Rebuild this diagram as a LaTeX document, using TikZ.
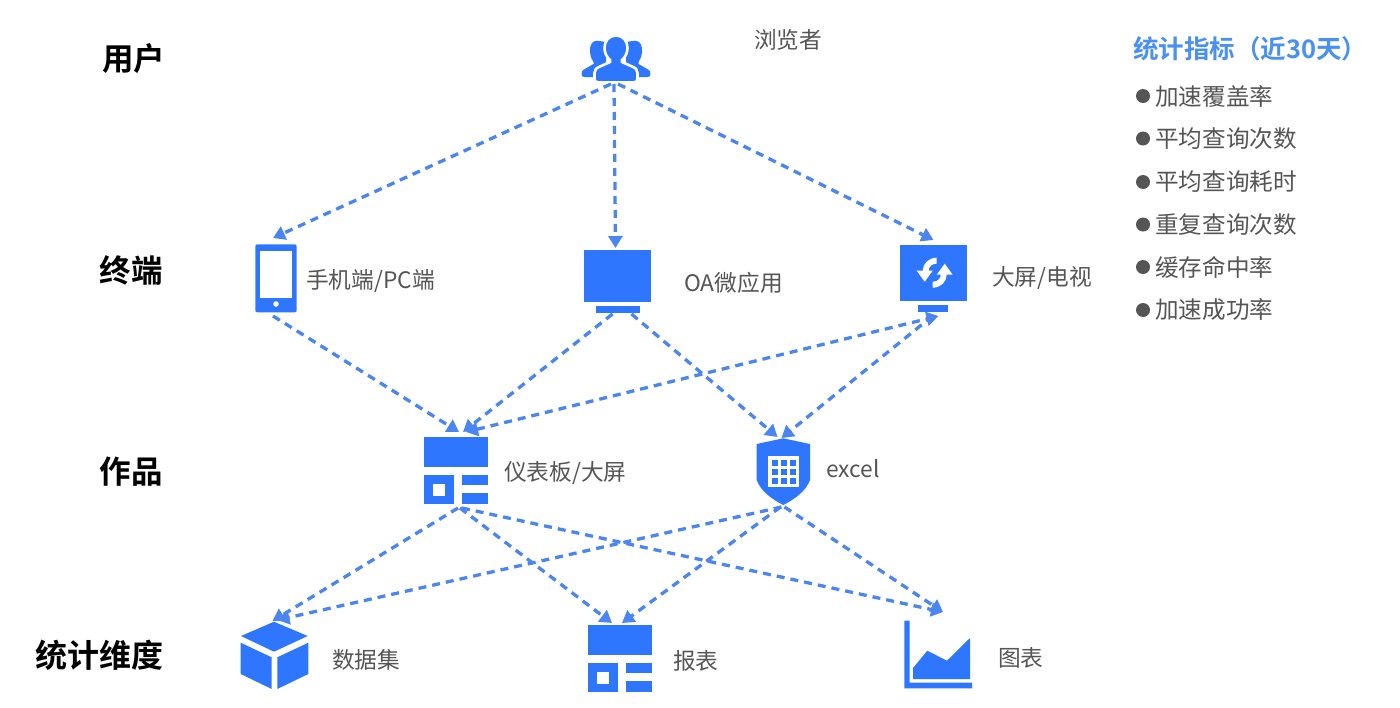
\documentclass[tikz,border=0pt]{standalone}
\usepackage{fontspec}
\setmainfont{Noto Sans CJK SC}[BoldFont={Noto Sans CJK SC Bold}]
\usetikzlibrary{arrows.meta}
\definecolor{iconblue}{HTML}{2F76FF}
\definecolor{flowblue}{HTML}{4A85F2}
\definecolor{titleblue}{HTML}{4A90F2}
\definecolor{labelgrey}{HTML}{555555}
\tikzset{
  iconframe/.style={inner sep=0pt,outer sep=0pt,minimum width=#1},
  flow/.style={flowblue,line width=3.3pt,dash pattern=on 8pt off 6pt,
    -{Triangle[length=12pt,width=14pt]}},
  twoway/.style={flow,{Triangle[length=12pt,width=14pt]}-{Triangle[length=12pt,width=14pt]}},
  tier/.style={anchor=center,font=\bfseries\fontsize{31.5}{32}\selectfont,text=black,inner sep=0pt},
  caption/.style={anchor=west,font=\fontsize{22.7}{24}\selectfont,text=labelgrey,inner sep=0pt},
  metric/.style={anchor=west,font=\fontsize{23.6}{24}\selectfont,text=labelgrey,inner sep=0pt},
  dot/.style={circle,fill=labelgrey,minimum size=14pt,inner sep=0pt},
}
% Two-row dashboard glyph, placed by its top-left corner
\newcommand{\panelglyph}[2]{%
  \begin{scope}[shift={(#1,#2)}]
    \fill[iconblue] (0,0) rectangle (63.5,29.4);
    \fill[iconblue] (0,37.2) rectangle (29.8,67);
    \fill[white] (9,46.2) rectangle (21,58.2);
    \fill[iconblue] (37.7,37.2) rectangle (63.5,48);
    \fill[iconblue] (37.7,55.8) rectangle (63.5,67);
  \end{scope}}
\begin{document}
\begin{tikzpicture}[x=1pt,y=-1pt]
\useasboundingbox (0,0) rectangle (1400,707);
\fill[white] (0,0) rectangle (1400,707);

% Tier headings
\node[tier] (tuser) at (133.5,59) {用户};
\node[tier] (tterm) at (131,270) {终端};
\node[tier] (twork) at (131,472) {作品};
\node[tier,font=\bfseries\fontsize{32}{32}\selectfont] (tdim) at (99.5,655) {统计维度};

% Icon frames: connectors attach to these
\node[iconframe=68pt,minimum height=50pt] (users) at (616,59) {};
\node[iconframe=42pt,minimum height=78pt] (phone) at (276,277) {};
\node[iconframe=67pt,minimum height=66pt] (monitor) at (617.5,281) {};
\node[iconframe=67pt,minimum height=76pt] (tv) at (933.5,278) {};
\node[iconframe=64pt,minimum height=76pt] (board) at (456,470) {};
\node[iconframe=53pt,minimum height=70pt] (shield) at (783.5,472) {};
\node[iconframe=67pt,minimum height=69pt] (cube) at (274.5,655.5) {};
\node[iconframe=64pt,minimum height=69pt] (report) at (620,657.5) {};
\node[iconframe=68pt,minimum height=68pt] (chart) at (938,654) {};

% Viewers: two side figures, then the front figure with a white halo
\fill[iconblue] (597,40.7) .. controls (591,40.7) and (589.5,47) .. (590,52)
  .. controls (590.5,57) and (592,60) .. (593.5,62) -- (593.5,64) -- (584,69.5)
  .. controls (582,70.5) and (581.7,72) .. (581.7,74) -- (581.7,75) .. controls (581.7,76.5) and (583,77) .. (585,77)
  -- (606,77) -- (606,42) -- cycle;
\fill[iconblue] (635,40.7) .. controls (641,40.7) and (642.5,47) .. (642,52)
  .. controls (641.5,57) and (640,60) .. (638.5,62) -- (638.5,64) -- (648,69.5)
  .. controls (650,70.5) and (650.3,72) .. (650.3,74) -- (650.3,75) .. controls (650.3,76.5) and (649,77) .. (647,77)
  -- (626,77) -- (626,42) -- cycle;
\fill[iconblue,draw=white,line width=2.6pt] (616,35.5) .. controls (609,35.5) and (604.5,41) .. (604.5,48)
  .. controls (604.5,53) and (607,57.5) .. (610,60) -- (610,62) -- (600,66.5)
  .. controls (596,68) and (594.5,70) .. (594.5,73) -- (594.5,79) .. controls (594.5,81) and (596,82.3) .. (598,82.3)
  -- (634,82.3) .. controls (636,82.3) and (637.5,81) .. (637.5,79) -- (637.5,73)
  .. controls (637.5,70) and (636,68) .. (632,66.5) -- (622,62) -- (622,60)
  .. controls (625,57.5) and (627.5,53) .. (627.5,48) .. controls (627.5,41) and (623,35.5) .. (616,35.5) -- cycle;

% Phone
\fill[iconblue,rounded corners=2pt] (255.3,244.3) rectangle (296.7,312.3);
\fill[white] (260.3,250.7) rectangle (292.3,298.3);
\fill[white] (276,304) circle (2.8);

% Monitor
\fill[iconblue] (584.3,250) rectangle (651.3,302);
\fill[iconblue] (595.7,306.3) rectangle (640.3,313.3);

% Screen with refresh arrows
\fill[iconblue] (899.7,244.7) rectangle (967,301);
\fill[iconblue] (918.3,305) rectangle (948.3,312.3);
\begin{scope}[shift={(934.7,272.7)}]
  \fill[white] (2,-15) .. controls (-6,-15) and (-12,-9) .. (-12,-2) -- (-18,-2) -- (-10,9) -- (-2,-2) -- (-6,-2)
    .. controls (-6,-6) and (-3,-9) .. (2,-9) -- cycle;
  \fill[white] (-2,15) .. controls (6,15) and (12,9) .. (12,2) -- (18,2) -- (10,-9) -- (2,2) -- (6,2)
    .. controls (6,6) and (3,9) .. (-2,9) -- cycle;
\end{scope}

% Dashboard
\panelglyph{424.3}{437.3}

% Shield with table
\fill[iconblue] (783.3,438.3) -- (810,444) -- (810,480)
  .. controls (806,491) and (795,499) .. (783.3,505)
  .. controls (771.6,499) and (760.6,491) .. (756.7,480) -- (756.7,444) -- cycle;
\fill[white] (768.3,456) rectangle (799,486.7);
\foreach \cx in {771.5,780.5,789.5}
  \foreach \cy in {459.5,468.5,477.5}
    \fill[iconblue] (\cx,\cy) rectangle ++(6,6);

% Cube
\fill[iconblue] (274,621.7) -- (307.7,636) -- (274,651.7) -- (241,636) -- cycle;
\fill[iconblue] (240.7,642.7) -- (271.7,657.3) -- (271.7,689) -- (240.7,674) -- cycle;
\fill[iconblue] (277.3,657.3) -- (308.3,642.7) -- (308.3,674) -- (277.3,689) -- cycle;

% Report
\panelglyph{588.3}{625.4}

% Area chart
\fill[iconblue] (904.3,620.7) -- (909.7,620.7) -- (909.7,682.7) -- (972,682.7) -- (972,688.3) -- (904.3,688.3) -- cycle;
\fill[iconblue] (913,679) -- (913,668) -- (927.3,650.7) -- (947,660.7) -- (970,638) -- (970,679) -- cycle;

% Icon captions
\node[caption] (cviewer) at (754,40) {浏览者};
\node[caption] (cphone) at (306,281) {手机端/PC端};
\node[caption] (cmonitor) at (684,283) {OA微应用};
\node[caption] (ctv) at (992,278) {大屏/电视};
\node[caption] (cboard) at (504,473) {仪表板/大屏};
\node[caption] (cshield) at (826,469) {excel};
\node[caption] (ccube) at (332,660) {数据集};
\node[caption] (creport) at (673,661) {报表};
\node[caption] (cchart) at (998,658) {图表};

% Statistics list
\node[anchor=west,inner sep=0pt,text=titleblue,font=\bfseries\fontsize{25.5}{26}\selectfont] (mtitle) at (1133,49) {统计指标（近30天）};
\foreach \nm/\yy/\txt in {a/96/加速覆盖率,b/138.5/平均查询次数,c/182/平均查询耗时,d/224.5/重复查询次数,e/267/缓存命中率,f/310/加速成功率}{
  \node[dot] (d\nm) at (1143,\yy) {};
  \node[metric] (m\nm) at (1155,\yy) {\txt};
}

% Connectors
\draw[flow] ([xshift=-5pt]users.south) -- ([xshift=-3pt]phone.north);
\draw[flow] ([xshift=-2pt]users.south) -- ([xshift=-2pt]monitor.north);
\draw[flow] ([xshift=2pt]users.south) -- (tv.north);
\draw[flow] ([xshift=-3pt]phone.south) -- ([xshift=3pt]board.north);
\draw[flow] ([xshift=-5pt]monitor.south) -- ([xshift=7pt]board.north);
\draw[flow] ([xshift=14pt]monitor.south) -- ([xshift=-6pt]shield.north);
\draw[twoway] ([xshift=10pt]board.north) -- ([xshift=5pt]tv.south);
\draw[flow] ([xshift=-1pt]tv.south) -- ([xshift=-2pt,yshift=-1pt]shield.north);
\draw[flow] ([xshift=2pt]board.south) -- ([xshift=-2pt]cube.north);
\draw[flow] ([xshift=4pt]board.south) -- ([xshift=-8pt]report.north);
\draw[flow] ([xshift=6pt]board.south) -- ([xshift=5pt,yshift=8pt]chart.north);
\draw[flow] ([xshift=-2pt]shield.south) -- ([xshift=3pt,yshift=1pt]cube.north);
\draw[flow] ([xshift=-3pt]shield.south) -- ([xshift=2pt]report.north);
\draw[flow] ([xshift=1pt]shield.south) -- ([xshift=5pt,yshift=8pt]chart.north);
\end{tikzpicture}
\end{document}
